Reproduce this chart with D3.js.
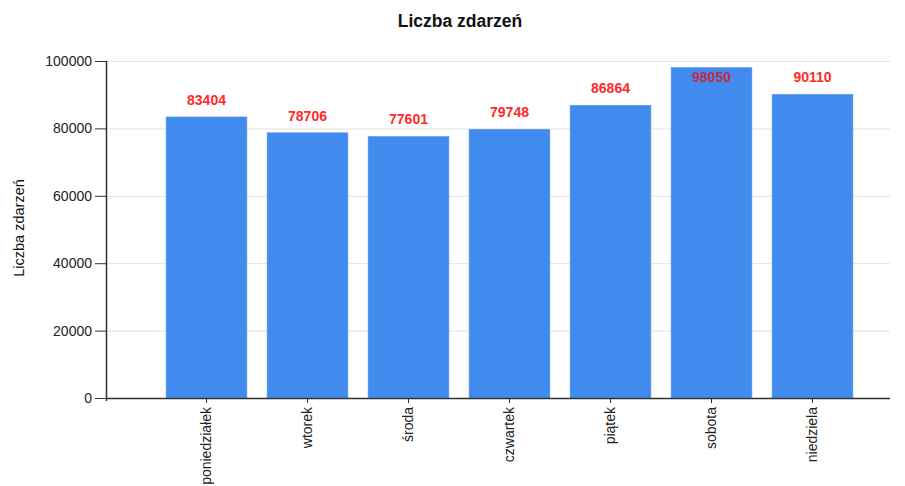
<!DOCTYPE html>
<html><head><meta charset="utf-8">
<script src="https://cdn.jsdelivr.net/npm/d3@7"></script>
<style>body{margin:0;background:#fff;font-family:"Liberation Sans",Arial,sans-serif;}</style>
</head><body>
<svg id="c" width="905" height="486"></svg>
<script>
const categories = ["poniedziałek","wtorek","środa","czwartek","piątek","sobota","niedziela"];
const values = [83404,78706,77601,79748,86864,98050,90110];
const yTicks = [0,20000,40000,60000,80000,100000];
const title = "Liczba zdarzeń";
const yLabel = "Liczba zdarzeń";

(function(){
const svg = d3.select("#c");
const FF = "Liberation Sans, Arial, sans-serif";
const mLeft = 106, mRight = 890, mTop = 61, mBottom = 398;
const x = d3.scaleBand().domain(categories).range([156, 863]).paddingInner(0.2).paddingOuter(0.1);
const y = d3.scaleLinear().domain([0,100000]).range([mBottom, mTop]);

// grid
svg.append("g").selectAll("line").data(yTicks.slice(1)).join("line")
  .attr("x1", mLeft).attr("x2", mRight)
  .attr("y1", d=>y(d)+0.5).attr("y2", d=>y(d)+0.5)
  .attr("stroke", "#e3e3e3").attr("stroke-width", 1);

// bars
svg.append("g").selectAll("rect").data(values).join("rect")
  .attr("x", (d,i)=>x(categories[i]))
  .attr("width", x.bandwidth())
  .attr("y", d=>y(d))
  .attr("height", d=>mBottom - y(d))
  .attr("fill", "#428bee")
  .attr("stroke", "#5d9cf0").attr("stroke-width", 0.6);

// value labels
const inside = d => (y(d) - 12 < 72);
svg.append("g").selectAll("text").data(values).join("text")
  .attr("x", (d,i)=>x(categories[i]) + x.bandwidth()/2)
  .attr("y", d=> inside(d) ? y(d) + 14.5 : y(d) - 12)
  .attr("text-anchor", "middle").attr("font-family", FF)
  .attr("font-size", 14).attr("font-weight", "bold")
  .attr("fill", d=> inside(d) ? "#c42a44" : "#ff2a2a")
  .text(d=>d);

// y axis
const ya = svg.append("g").attr("transform", `translate(${mLeft},0)`)
  .call(d3.axisLeft(y).tickValues(yTicks).tickSize(11).tickPadding(3).tickFormat(d3.format("d")));
ya.selectAll("text").attr("font-size", 14).attr("fill", "#222").attr("font-family", FF);
ya.selectAll("line").attr("stroke", "#333");
ya.select(".domain").attr("stroke", "#333").attr("stroke-width", 1.5).attr("d", `M0.5,${mTop}V${mBottom+3}`);

// x axis
const xa = svg.append("g").attr("transform", `translate(0,${mBottom})`)
  .call(d3.axisBottom(x).tickSize(5).tickPadding(0));
xa.select(".domain").remove();
xa.selectAll("line").attr("stroke", "#333");
xa.selectAll("text")
  .attr("font-size", 14).attr("fill", "#222").attr("font-family", FF)
  .attr("transform", "rotate(-90)")
  .attr("text-anchor", "end")
  .attr("x", -9).attr("y", 0).attr("dy", "0.35em");
svg.append("line").attr("x1", mLeft).attr("x2", mRight).attr("y1", mBottom+0.5).attr("y2", mBottom+0.5)
  .attr("stroke", "#333").attr("stroke-width", 1.5);

// title
svg.append("text").attr("x", 460).attr("y", 27).attr("text-anchor", "middle").attr("font-family", FF)
  .attr("font-size", 17.5).attr("font-weight", "bold").attr("fill", "#111").text(title);

// y label
svg.append("text").attr("transform", `translate(24,228) rotate(-90)`).attr("text-anchor", "middle").attr("font-family", FF)
  .attr("font-size", 14.5).attr("fill", "#111").text(yLabel);
})();
</script>
</body></html>
